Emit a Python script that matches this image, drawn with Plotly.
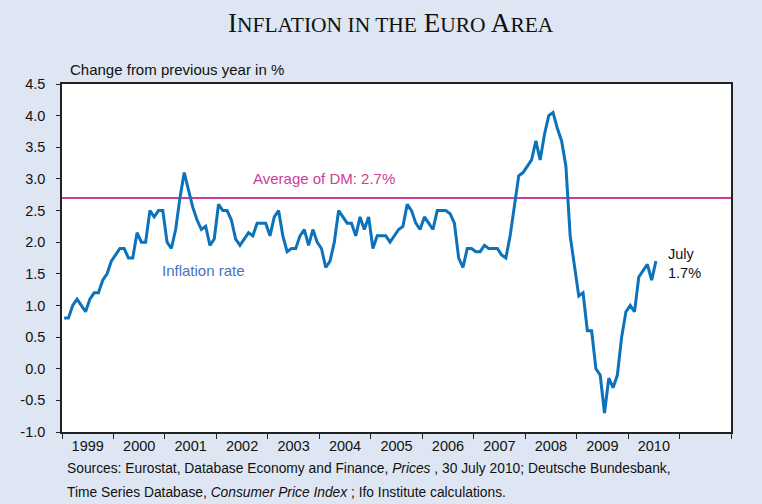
import plotly.graph_objects as go

# Monthly euro-area inflation, Jan 1999 .. Jul 2010 (change from previous year, %)
infl_1999 = [0.8, 0.8, 1.0, 1.1, 1.0, 0.9, 1.1, 1.2, 1.2, 1.4, 1.5, 1.7]
infl_2000 = [1.8, 1.9, 1.9, 1.75, 1.75, 2.15, 2.0, 2.0, 2.5, 2.4, 2.5, 2.5]
infl_2001 = [2.0, 1.9, 2.2, 2.7, 3.1, 2.8, 2.55, 2.35, 2.2, 2.25, 1.95, 2.05]
infl_2002 = [2.6, 2.5, 2.5, 2.35, 2.05, 1.95, 2.05, 2.15, 2.1, 2.3, 2.3, 2.3]
infl_2003 = [2.1, 2.4, 2.5, 2.1, 1.85, 1.9, 1.9, 2.1, 2.2, 1.95, 2.2, 2.0]
infl_2004 = [1.9, 1.6, 1.7, 2.0, 2.5, 2.4, 2.3, 2.3, 2.1, 2.4, 2.2, 2.4]
infl_2005 = [1.9, 2.1, 2.1, 2.1, 2.0, 2.1, 2.2, 2.25, 2.6, 2.5, 2.3, 2.2]
infl_2006 = [2.4, 2.3, 2.2, 2.5, 2.5, 2.5, 2.45, 2.3, 1.75, 1.6, 1.9, 1.9]
infl_2007 = [1.85, 1.85, 1.95, 1.9, 1.9, 1.9, 1.8, 1.75, 2.1, 2.6, 3.05, 3.1]
infl_2008 = [3.2, 3.3, 3.6, 3.3, 3.7, 4.0, 4.05, 3.8, 3.6, 3.2, 2.1, 1.6]
infl_2009 = [1.15, 1.2, 0.6, 0.6, 0.0, -0.1, -0.7, -0.15, -0.3, -0.1, 0.5, 0.9]
infl_2010 = [1.0, 0.9, 1.45, 1.55, 1.65, 1.4, 1.7]

first_year = 1999
years = [1999, 2000, 2001, 2002, 2003, 2004, 2005, 2006, 2007, 2008, 2009, 2010]
axis_start, axis_end = 1999, 2012
avg_dm = 2.7
y_ticks = [-1.0, -0.5, 0.0, 0.5, 1.0, 1.5, 2.0, 2.5, 3.0, 3.5, 4.0, 4.5]
y_tick_text = ["-1.0", "-0.5", "0.0", "0.5", "1.0", "1.5", "2.0", "2.5", "3.0", "3.5", "4.0", "4.5"]
source_lines = [
    "Sources: Eurostat, Database Economy and Finance, <i>Prices</i> , 30 July 2010; Deutsche Bundesbank,",
    "Time Series Database, <i>Consumer Price Index</i> ; Ifo Institute calculations.",
]

values = (infl_1999 + infl_2000 + infl_2001 + infl_2002 + infl_2003 + infl_2004 +
          infl_2005 + infl_2006 + infl_2007 + infl_2008 + infl_2009 + infl_2010)
x_time = [first_year + (i + 0.5) / 12 for i in range(len(values))]

BG = "#dde6f2"
LINE = "#0b72bb"
MAGENTA = "#cc3d9c"
SANS = "Liberation Sans, Arial, sans-serif"

fig = go.Figure()
fig.add_trace(go.Scatter(x=x_time, y=values, mode="lines",
                         line=dict(color=LINE, width=3), hoverinfo="skip",
                         showlegend=False))

fig.add_shape(type="line", xref="x", yref="y", x0=axis_start, x1=axis_end,
              y0=avg_dm, y1=avg_dm, line=dict(color=MAGENTA, width=2), layer="below")

ann = []
sc = "font-size:21.5px"
title = (f"I<span style='{sc}'>NFLATION IN THE</span> E<span style='{sc}'>URO</span> "
         f"A<span style='{sc}'>REA</span>")
ann.append(dict(text=title, xref="paper", yref="paper", x=0.5, y=1.0, xanchor="center",
                yanchor="bottom", yshift=44, xshift=-6, showarrow=False,
                font=dict(family="Liberation Serif, Times New Roman, serif", size=27, color="#111111")))
ann.append(dict(text="Change from previous year in %", xref="paper", yref="paper",
                x=0, y=1, xanchor="left", yanchor="bottom", xshift=6, yshift=4, showarrow=False,
                font=dict(family=SANS, size=15, color="#111111")))
ann.append(dict(text=f"Average of DM: {avg_dm}%", xref="x", yref="y", x=2004.09, y=3.0,
                xanchor="center", yanchor="middle", showarrow=False,
                font=dict(family=SANS, size=15, color=MAGENTA)))
ann.append(dict(text="Inflation rate", xref="x", yref="y", x=2001.74, y=1.56,
                xanchor="center", yanchor="middle", showarrow=False,
                font=dict(family=SANS, size=15, color="#4a72c0")))
ann.append(dict(text=f"July<br>{values[-1]}%", xref="x", yref="y", x=2010.74, y=1.67,
                xanchor="left", yanchor="middle", align="left", showarrow=False,
                font=dict(family=SANS, size=14.5, color="#111111")))
for k, line_text in enumerate(source_lines):
    ann.append(dict(text=line_text, xref="paper", yref="paper", x=0, y=0,
                    xanchor="left", yanchor="middle", yshift=-36 - 24 * k, xshift=3,
                    align="left", showarrow=False,
                    font=dict(family=SANS, size=13.8, color="#111111")))

# the page body has an 8px default margin; margins compensate so the plot area
# lands where the reference puts it
fig.update_layout(
    width=762, height=504,
    margin=dict(l=54, r=39, t=76, b=80),
    paper_bgcolor=BG, plot_bgcolor="white",
    annotations=ann,
    xaxis=dict(range=[axis_start, axis_end], showgrid=False, zeroline=False,
               tickmode="array", tickvals=[y + 0.5 for y in years],
               ticktext=[str(y) for y in years], ticks="",
               tickfont=dict(family=SANS, size=14.5, color="#111111"),
               showline=True, linecolor="#222222", linewidth=1.5, mirror=True,
               minor=dict(tickmode="linear", tick0=axis_start, dtick=1, ticks="outside",
                          ticklen=5, tickwidth=1.2, tickcolor="#222222", showgrid=False)),
    yaxis=dict(range=[-1.0, 4.5], showgrid=False, zeroline=False,
               tickmode="array", tickvals=y_ticks, ticktext=y_tick_text,
               ticks="outside", ticklen=4, tickwidth=1.2, tickcolor="#222222",
               ticklabelstandoff=8,
               tickfont=dict(family=SANS, size=14.5, color="#111111"),
               showline=True, linecolor="#222222", linewidth=1.5, mirror=True),
)

fig.write_html("out.html", post_script=f"document.body.style.background='{BG}';")
